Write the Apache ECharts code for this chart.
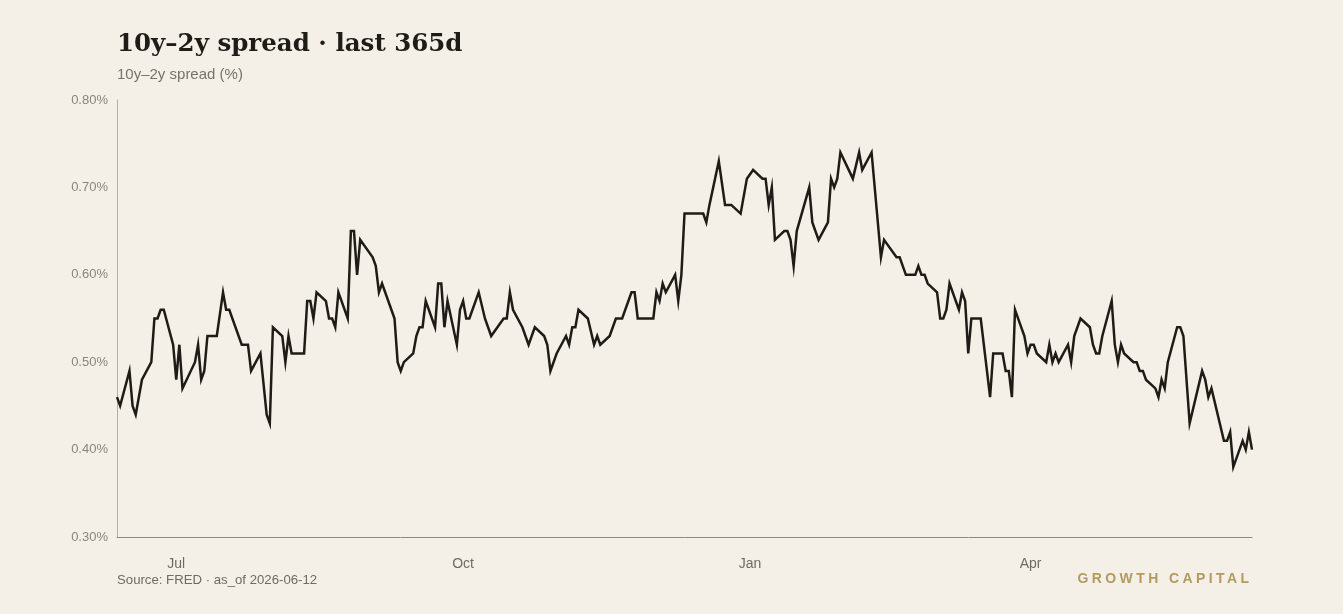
<!DOCTYPE html>
<html lang="en">
<head>
    <meta charset="UTF-8">
    <title>10y–2y spread</title>
    <script src="https://cdn.jsdelivr.net/npm/echarts@6.0.0/dist/echarts.min.js"></script>
    <style>
        html, body { margin: 0; padding: 0; background: #f4f0e8; }
        #wrap { position: relative; width: 1343px; height: 614px; }
        #main { width: 1343px; height: 614px; }
        #brand {
            position: absolute; right: 91px; top: 570px;
            font-family: "Liberation Sans", Arial, sans-serif; font-size: 14px; font-weight: bold;
            letter-spacing: 3.4px; color: #b59a5e; margin-right: -0.4px;
        }
    </style>
</head>
<body>
<div id="wrap">
    <div id="main"></div>
    <div id="brand">GROWTH CAPITAL</div>
</div>
<script type="text/javascript">
    // data, one point per visible vertex
    var dates = [
        '2025-06-12', '2025-06-13', '2025-06-16', '2025-06-17', '2025-06-18', '2025-06-20', '2025-06-23', '2025-06-24',
        '2025-06-25', '2025-06-26', '2025-06-27', '2025-06-30', '2025-07-01', '2025-07-02', '2025-07-03', '2025-07-07',
        '2025-07-08', '2025-07-09', '2025-07-10', '2025-07-11', '2025-07-14', '2025-07-16', '2025-07-17', '2025-07-18',
        '2025-07-22', '2025-07-24', '2025-07-25', '2025-07-28', '2025-07-30', '2025-07-31', '2025-08-01', '2025-08-04',
        '2025-08-05', '2025-08-06', '2025-08-07', '2025-08-11', '2025-08-12', '2025-08-13', '2025-08-14', '2025-08-15',
        '2025-08-18', '2025-08-19', '2025-08-20', '2025-08-21', '2025-08-22', '2025-08-25', '2025-08-26', '2025-08-27',
        '2025-08-28', '2025-08-29', '2025-09-02', '2025-09-03', '2025-09-04', '2025-09-05', '2025-09-08', '2025-09-09',
        '2025-09-10', '2025-09-11', '2025-09-12', '2025-09-15', '2025-09-16', '2025-09-17', '2025-09-18', '2025-09-19',
        '2025-09-22', '2025-09-23', '2025-09-24', '2025-09-25', '2025-09-26', '2025-09-29', '2025-09-30', '2025-10-01',
        '2025-10-02', '2025-10-03', '2025-10-06', '2025-10-08', '2025-10-10', '2025-10-14', '2025-10-15', '2025-10-16',
        '2025-10-17', '2025-10-20', '2025-10-22', '2025-10-24', '2025-10-27', '2025-10-28', '2025-10-29', '2025-10-31',
        '2025-11-03', '2025-11-04', '2025-11-05', '2025-11-06', '2025-11-07', '2025-11-10', '2025-11-12', '2025-11-13',
        '2025-11-14', '2025-11-17', '2025-11-19', '2025-11-21', '2025-11-24', '2025-11-25', '2025-11-26', '2025-12-01',
        '2025-12-02', '2025-12-03', '2025-12-04', '2025-12-05', '2025-12-08', '2025-12-09', '2025-12-10', '2025-12-11',
        '2025-12-17', '2025-12-18', '2025-12-19', '2025-12-22', '2025-12-24', '2025-12-26', '2025-12-29', '2025-12-31',
        '2026-01-02', '2026-01-05', '2026-01-06', '2026-01-07', '2026-01-08', '2026-01-09', '2026-01-12', '2026-01-13',
        '2026-01-14', '2026-01-15', '2026-01-16', '2026-01-20', '2026-01-21', '2026-01-23', '2026-01-26', '2026-01-27',
        '2026-01-28', '2026-01-29', '2026-01-30', '2026-02-03', '2026-02-05', '2026-02-06', '2026-02-09', '2026-02-10',
        '2026-02-12', '2026-02-13', '2026-02-17', '2026-02-18', '2026-02-20', '2026-02-23', '2026-02-24', '2026-02-25',
        '2026-02-26', '2026-02-27', '2026-03-02', '2026-03-03', '2026-03-04', '2026-03-05', '2026-03-06', '2026-03-09',
        '2026-03-10', '2026-03-11', '2026-03-12', '2026-03-13', '2026-03-16', '2026-03-19', '2026-03-20', '2026-03-23',
        '2026-03-24', '2026-03-25', '2026-03-26', '2026-03-27', '2026-03-30', '2026-03-31', '2026-04-01', '2026-04-02',
        '2026-04-03', '2026-04-06', '2026-04-07', '2026-04-08', '2026-04-09', '2026-04-10', '2026-04-13', '2026-04-14',
        '2026-04-15', '2026-04-17', '2026-04-20', '2026-04-21', '2026-04-22', '2026-04-23', '2026-04-24', '2026-04-27',
        '2026-04-28', '2026-04-29', '2026-04-30', '2026-05-01', '2026-05-04', '2026-05-05', '2026-05-06', '2026-05-07',
        '2026-05-08', '2026-05-11', '2026-05-12', '2026-05-13', '2026-05-14', '2026-05-15', '2026-05-18', '2026-05-19',
        '2026-05-20', '2026-05-22', '2026-05-26', '2026-05-27', '2026-05-28', '2026-05-29', '2026-06-02', '2026-06-03',
        '2026-06-04', '2026-06-05', '2026-06-08', '2026-06-09', '2026-06-10', '2026-06-11'
    ];
    var spread = [
        0.46, 0.45, 0.49, 0.45, 0.44, 0.48, 0.50, 0.55,
        0.55, 0.56, 0.56, 0.52, 0.48, 0.52, 0.47, 0.50,
        0.52, 0.48, 0.49, 0.53, 0.53, 0.58, 0.56, 0.56,
        0.52, 0.52, 0.49, 0.51, 0.44, 0.43, 0.54, 0.53,
        0.50, 0.53, 0.51, 0.51, 0.57, 0.57, 0.55, 0.58,
        0.57, 0.55, 0.55, 0.54, 0.58, 0.55, 0.65, 0.65,
        0.60, 0.64, 0.62, 0.61, 0.58, 0.59, 0.56, 0.55,
        0.50, 0.49, 0.50, 0.51, 0.53, 0.54, 0.54, 0.57,
        0.54, 0.59, 0.59, 0.54, 0.57, 0.52, 0.56, 0.57,
        0.55, 0.55, 0.58, 0.55, 0.53, 0.55, 0.55, 0.58,
        0.56, 0.54, 0.52, 0.54, 0.53, 0.52, 0.49, 0.51,
        0.53, 0.52, 0.54, 0.54, 0.56, 0.55, 0.52, 0.53,
        0.52, 0.53, 0.55, 0.55, 0.58, 0.58, 0.55, 0.55,
        0.58, 0.57, 0.59, 0.58, 0.60, 0.57, 0.60, 0.67,
        0.67, 0.66, 0.68, 0.73, 0.68, 0.68, 0.67, 0.71,
        0.72, 0.71, 0.71, 0.68, 0.70, 0.64, 0.65, 0.65,
        0.64, 0.61, 0.65, 0.70, 0.66, 0.64, 0.66, 0.71,
        0.70, 0.71, 0.74, 0.71, 0.74, 0.72, 0.74, 0.70,
        0.62, 0.64, 0.62, 0.62, 0.60, 0.60, 0.61, 0.60,
        0.60, 0.59, 0.58, 0.55, 0.55, 0.56, 0.59, 0.56,
        0.58, 0.57, 0.51, 0.55, 0.55, 0.46, 0.51, 0.51,
        0.49, 0.49, 0.46, 0.56, 0.53, 0.51, 0.52, 0.52,
        0.51, 0.50, 0.52, 0.50, 0.51, 0.50, 0.52, 0.50,
        0.53, 0.55, 0.54, 0.52, 0.51, 0.51, 0.53, 0.57,
        0.52, 0.50, 0.52, 0.51, 0.50, 0.50, 0.49, 0.49,
        0.48, 0.47, 0.46, 0.48, 0.47, 0.50, 0.54, 0.54,
        0.53, 0.43, 0.49, 0.48, 0.46, 0.47, 0.41, 0.41,
        0.42, 0.38, 0.41, 0.40, 0.42, 0.40
    ];
    var yTicks = [0.3, 0.4, 0.5, 0.6, 0.7, 0.8];
    var quarterNames = {0: 'Jan', 3: 'Apr', 6: 'Jul', 9: 'Oct'};

    var seriesData = [];
    for (var i = 0; i < dates.length; i++) {
        seriesData.push([dates[i], spread[i]]);
    }

    var myChart = echarts.init(document.getElementById('main'));
    var sans = '"Liberation Sans", Arial, sans-serif';
    var option = {
        backgroundColor: '#f4f0e8',
        animation: false,
        title: [{
            text: '10y–2y spread · last 365d',
            left: 117,
            top: 32,
            padding: 0,
            textStyle: {fontFamily: '"DejaVu Serif", Georgia, serif', fontWeight: 'bold', fontSize: 24.5, color: '#1f1c18'}
        }, {
            text: '10y–2y spread (%)',
            left: 117,
            top: 67,
            padding: 0,
            textStyle: {fontFamily: sans, fontWeight: 'normal', fontSize: 15, color: '#77726a'}
        }, {
            text: 'Source: FRED · as_of 2026-06-12',
            left: 117,
            top: 574,
            padding: 0,
            textStyle: {fontFamily: sans, fontWeight: 'normal', fontSize: 13.2, color: '#6f6a62'}
        }],
        grid: {left: 117, right: 91, top: 100, bottom: 77},
        xAxis: {
            type: 'time',
            min: dates[0],
            max: dates[dates.length - 1],
            splitNumber: 4,
            axisLine: {lineStyle: {color: '#8f8a80', width: 1}},
            axisTick: {show: false},
            splitLine: {show: false},
            axisLabel: {
                margin: 20,
                fontFamily: sans,
                fontSize: 14,
                color: '#6f6a62',
                showMinLabel: false,
                showMaxLabel: false,
                formatter: function (value) {
                    var d = new Date(value);
                    if (d.getDate() !== 1) return '';
                    return quarterNames[d.getMonth()] || '';
                }
            }
        },
        yAxis: {
            type: 'value',
            min: yTicks[0],
            max: yTicks[yTicks.length - 1],
            interval: 0.1,
            axisLine: {show: true, lineStyle: {color: '#b3ada2', width: 1}},
            axisTick: {show: false},
            splitLine: {show: false},
            axisLabel: {
                margin: 9,
                fontFamily: sans,
                fontSize: 13,
                color: '#8a857c',
                formatter: function (v) {
                    return v.toFixed(2) + '%';
                }
            }
        },
        series: [{
            name: '10y–2y spread',
            type: 'line',
            data: seriesData,
            showSymbol: false,
            smooth: false,
            lineStyle: {color: '#1f1c18', width: 2.5, join: 'miter'}
        }]
    };
    myChart.setOption(option);
</script>
</body>
</html>
